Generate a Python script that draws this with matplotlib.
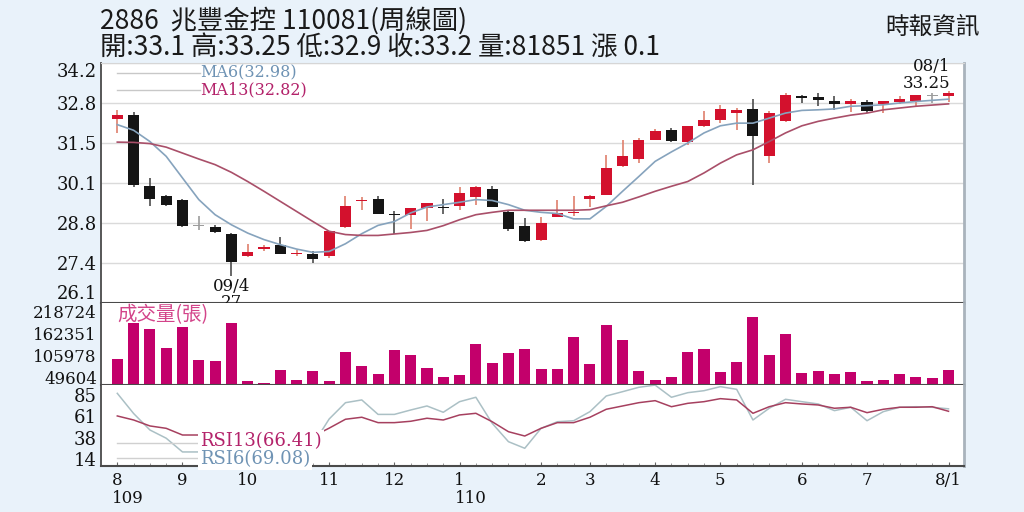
import matplotlib.pyplot as plt
import matplotlib.transforms as mtransforms
import numpy as np

# weekly bars, 109/08 -> 110/08/1
opens = [32.31, 32.45, 30.06, 29.72, 29.56, 28.70, 28.66, 28.43, 27.67, 27.92,
         28.07, 27.75, 27.76, 27.67, 28.65, 29.53, 29.60, 29.09, 29.08, 29.30,
         29.33, 29.38, 29.68, 29.95, 29.16, 28.70, 28.21, 29.00, 29.15, 29.61,
         29.76, 30.71, 30.97, 31.61, 31.95, 31.52, 32.06, 32.26, 32.51, 32.65,
         31.07, 32.23, 33.10, 33.06, 32.91, 32.82, 32.87, 32.80, 32.87, 32.91,
         33.10, 33.10]
closes = [32.45, 30.07, 29.62, 29.42, 28.69, 28.70, 28.48, 27.47, 27.81, 28.00,
          27.76, 27.79, 27.60, 28.52, 29.36, 29.57, 29.10, 29.08, 29.30, 29.46,
          29.31, 29.81, 30.02, 29.34, 28.60, 28.18, 28.80, 29.14, 29.17, 29.72,
          30.66, 31.05, 31.59, 31.89, 31.58, 32.06, 32.26, 32.65, 32.60, 31.72,
          32.51, 33.11, 33.02, 32.94, 32.80, 32.91, 32.57, 32.91, 33.00, 33.11,
          33.10, 33.20]
highs = [32.60, 32.53, 30.32, 29.74, 29.60, 29.02, 28.74, 28.46, 28.10, 28.05,
         28.33, 27.90, 27.85, 28.53, 29.72, 29.68, 29.72, 29.22, 29.30, 29.47,
         29.60, 30.02, 30.05, 30.04, 29.22, 28.97, 29.00, 29.57, 29.72, 29.73,
         31.10, 31.61, 31.67, 31.97, 32.00, 32.07, 32.57, 32.79, 32.68, 32.98,
         32.57, 33.19, 33.13, 33.19, 33.07, 32.98, 32.94, 32.92, 33.07, 33.12,
         33.19, 33.25]
lows = [31.84, 30.02, 29.36, 29.39, 28.65, 28.57, 28.46, 27.00, 27.65, 27.85,
        27.74, 27.67, 27.45, 27.62, 28.62, 29.24, 29.10, 28.43, 28.60, 28.86,
        29.09, 29.25, 29.42, 29.34, 28.53, 28.15, 28.20, 29.00, 29.04, 29.33,
        29.74, 30.70, 30.83, 31.60, 31.52, 31.44, 32.04, 32.17, 31.95, 30.09,
        30.83, 32.22, 32.85, 32.76, 32.62, 32.53, 32.51, 32.51, 32.82, 32.76,
        32.85, 32.90]
volumes = [109330, 203300, 186370, 139120, 191500, 107530, 104960, 203300, 53600, 49240,
           81080, 56170, 78510, 52830, 127300, 91350, 70810, 133210, 119600, 86990,
           63870, 68240, 147850, 99830, 126280, 136550, 84420, 84420, 167360, 98030,
           196640, 159660, 78510, 56940, 63870, 128840, 135010, 76710, 101620, 218724,
           119600, 173530, 74920, 78510, 70810, 77480, 54370, 56170, 72350, 64640,
           62080, 81851]
ma6 = [32.12, 31.93, 31.55, 31.05, 30.32, 29.59, 29.08, 28.74, 28.46, 28.24,
       28.07, 27.92, 27.81, 27.84, 28.10, 28.44, 28.72, 28.85, 29.14, 29.34,
       29.42, 29.50, 29.59, 29.56, 29.42, 29.23, 29.16, 29.12, 28.94, 28.94,
       29.36, 29.87, 30.37, 30.88, 31.20, 31.50, 31.84, 32.08, 32.17, 32.17,
       32.34, 32.51, 32.60, 32.62, 32.65, 32.74, 32.76, 32.79, 32.85, 32.90,
       32.94, 32.98]
ma13 = [31.53, 31.52, 31.48, 31.36, 31.16, 30.96, 30.77, 30.51, 30.20, 29.87,
        29.53, 29.19, 28.85, 28.52, 28.41, 28.38, 28.38, 28.43, 28.48, 28.55,
        28.71, 28.91, 29.08, 29.16, 29.23, 29.23, 29.23, 29.23, 29.23, 29.25,
        29.38, 29.50, 29.68, 29.87, 30.04, 30.20, 30.49, 30.82, 31.10, 31.27,
        31.55, 31.84, 32.08, 32.23, 32.34, 32.44, 32.51, 32.62, 32.68, 32.74,
        32.78, 32.82]
rsi6 = [86.0, 64.0, 46.0, 37.0, 22.0, 22.0, 20.0, 14.0, 18.0, 22.0,
        21.0, 24.0, 30.0, 58.0, 75.8, 78.8, 63.0, 63.0, 67.8, 72.2,
        65.3, 76.9, 81.7, 53.3, 33.2, 26.0, 47.8, 55.0, 56.1, 66.0,
        83.1, 87.8, 92.6, 95.0, 81.7, 86.7, 88.9, 93.3, 90.4, 56.9,
        69.7, 79.5, 76.9, 74.4, 67.1, 70.8, 56.1, 66.0, 70.8, 71.4,
        70.8, 69.08]
rsi13 = [61.3, 56.9, 50.4, 47.8, 40.5, 40.5, 38.0, 34.0, 35.0, 36.0,
         36.0, 37.0, 39.0, 48.0, 57.7, 59.9, 54.0, 54.0, 55.5, 58.8,
         56.9, 62.4, 64.2, 55.0, 44.1, 39.4, 47.8, 54.0, 54.0, 59.9,
         68.6, 72.2, 75.8, 78.0, 71.4, 75.1, 76.9, 80.2, 78.8, 64.2,
         71.4, 75.8, 74.4, 73.3, 69.7, 70.8, 64.9, 68.6, 70.8, 70.8,
         71.4, 66.41]

month_pos = [0, 4, 8, 13, 17, 21, 26, 29, 33, 37, 42, 46, 51]
month_labels = ['8', '9', '10', '11', '12', '1', '2', '3', '4', '5', '6', '7', '8/1']
price_ticks = [26.1, 27.45, 28.8, 30.15, 31.5, 32.85, 34.2]
price_labels = ['26.1', '27.4', '28.8', '30.1', '31.5', '32.8', '34.2']
vol_ticks = [49604, 105978, 162351, 218724]
rsi_ticks = [14, 37.5, 61, 84.5]
rsi_labels = ['14', '38', '61', '85']

SERIF = 'DejaVu Serif'
CJK = ['Noto Sans CJK TC', 'DejaVu Sans']
RED = '#d3112d'
BLUE_TXT = '#6f93b4'
RED_TXT = '#b3226a'
DARK = '#4a4a4a'

fig = plt.figure(figsize=(10.24, 5.12), dpi=100, facecolor='#e9f2fa')
L, W = 101 / 1024, 863 / 1024
ax1 = fig.add_axes([L, 1 - 303 / 512, W, 240 / 512])
ax2 = fig.add_axes([L, 1 - 385 / 512, W, 82 / 512], sharex=ax1)
ax3 = fig.add_axes([L, 1 - 466 / 512, W, 81 / 512], sharex=ax1)

x = np.arange(len(opens))
o, c, h, l = (np.array(a) for a in (opens, closes, highs, lows))

# ---- price panel ----
up = c > o
down = c < o
body_col = np.where(up, RED, np.where(down, '#151515', '#9c9c9c'))
wick_col = np.where(up, '#df7f6c', np.where(down, '#4d4d4d', '#9c9c9c'))
ax1.vlines(x, l, h, colors=wick_col, lw=1.2, zorder=2)
body_h = np.maximum(np.abs(c - o), 0.035)
body_b = (o + c) / 2 - body_h / 2
ax1.bar(x, body_h, bottom=body_b, width=0.68, color=body_col, zorder=3)
ax1.plot(x, ma6, color='#86a3bd', lw=1.2, zorder=4)
ax1.plot(x, ma13, color='#a94f69', lw=1.2, zorder=4)

ax1.set_ylim(price_ticks[0], price_ticks[-1])
ax1.set_yticks(price_ticks, price_labels)
ax1.grid(axis='y', color='#dadada', lw=1)
ax1.set_axisbelow(True)

# legend of moving averages
ax1.plot([0.0185, 0.1147], [0.958, 0.958], transform=ax1.transAxes, color='#c8c8c8', lw=1)
ax1.plot([0.0185, 0.1147], [0.886, 0.886], transform=ax1.transAxes, color='#c8c8c8', lw=1)
ax1.text(0.1147, 0.958, f'MA6({ma6[-1]:.2f})', transform=ax1.transAxes, color=BLUE_TXT,
         fontsize=11.5, family=SERIF, va='center')
ax1.text(0.1147, 0.886, f'MA13({ma13[-1]:.2f})', transform=ax1.transAxes, color=RED_TXT,
         fontsize=11.5, family=SERIF, va='center')

# low / high notes
lo = int(np.argmin(l))
note = dict(textcoords='offset points', ha='center', va='center', fontsize=12,
            family=SERIF, color='#111', annotation_clip=False)
ax1.annotate('09/4', xy=(lo, l[lo]), xytext=(0, -7), **note)
ax1.annotate(f'{l[lo]:g}', xy=(lo, l[lo]), xytext=(0, -19), **note)
hi = int(np.argmax(h))
note['ha'] = 'right'
ax1.annotate(f'{h[hi]:.2f}', xy=(hi, h[hi]), xytext=(1, 5.5), **note)
ax1.annotate('08/1', xy=(hi, h[hi]), xytext=(1, 18), **note)

# ---- volume panel ----
ax2.bar(x, volumes, width=0.68, color='#c3006b', zorder=2)
ax2.set_ylim(43330, 253900)
ax2.set_yticks(vol_ticks, [str(v) for v in vol_ticks])
ax2.text(0.0185, 0.86, '成交量(張)', transform=ax2.transAxes, color='#d3448a',
         fontsize=14, family=CJK, va='center', zorder=5)

# ---- RSI panel ----
ax3.plot(x, rsi6, color='#abc0c5', lw=1.1, zorder=2)
ax3.plot(x, rsi13, color='#a6405f', lw=1.1, zorder=2)
ax3.set_ylim(6.66, 95.1)
ax3.set_yticks(rsi_ticks, rsi_labels)
ax3.plot([0.0185, 0.1147], [0.284, 0.284], transform=ax3.transAxes, color='#d0d0d0', lw=1)
ax3.plot([0.0185, 0.1147], [0.099, 0.099], transform=ax3.transAxes, color='#d0d0d0', lw=1)
box = dict(facecolor='white', edgecolor='none', pad=1.5)
ax3.text(0.1147, 0.31, f'RSI13({rsi13[-1]:.2f})', transform=ax3.transAxes, color=RED_TXT,
         fontsize=13, family=SERIF, va='center', bbox=box, zorder=5)
ax3.text(0.1147, 0.088, f'RSI6({rsi6[-1]:.2f})', transform=ax3.transAxes, color=BLUE_TXT,
         fontsize=13, family=SERIF, va='center', bbox=box, zorder=5)

ax3.set_xlim(-1.0, 51.95)
ax3.set_xticks(month_pos, month_labels)
ax3.set_xticks(x, minor=True)
for yr, pos in (('109', 0), ('110', 21)):
    ax3.annotate(yr, xy=(pos, 0), xycoords=('data', 'axes fraction'), xytext=(-3.5, -23.5),
                 textcoords='offset points', ha='left', va='center', fontsize=12,
                 family=SERIF, color='#111', annotation_clip=False)

# ---- common styling ----
for ax in (ax1, ax2, ax3):
    ax.set_facecolor('white')
    ax.spines['left'].set_color(DARK)
    ax.spines['left'].set_linewidth(1.3)
    ax.spines['right'].set_color('#a9b3bc')
    ax.spines['right'].set_linewidth(2)
    ax.spines['bottom'].set_color(DARK)
    ax.spines['bottom'].set_linewidth(1.5)
    ax.spines['top'].set_visible(False)
    ax.tick_params(axis='y', length=0, pad=3, labelsize=13, labelcolor='#111')
    for t in ax.get_yticklabels():
        t.set_family(SERIF)
ax1.spines['top'].set_visible(True)
ax1.spines['top'].set_color('#d6d6d6')
ax1.tick_params(axis='x', which='both', length=0, labelbottom=False)
ax2.tick_params(axis='x', which='both', length=0, labelbottom=False)
ax2.tick_params(axis='y', labelsize=12)
ax3.tick_params(axis='x', which='major', length=3, direction='in', color='#666',
                pad=4, labelsize=12, labelcolor='#111')
ax3.tick_params(axis='x', which='minor', length=2, direction='in', color='#888')
for t in ax3.get_xticklabels():
    t.set_family(SERIF)

ylab = ax1.get_yticklabels()
ylab[0].set_va('bottom')
ylab[-1].set_va('top')
# volume labels sit a little above their ticks, as on the source chart
lift = mtransforms.ScaledTranslation(0, 5 / 100, fig.dpi_scale_trans)
for t in ax2.get_yticklabels():
    t.set_transform(t.get_transform() + lift)

# ---- header ----
chg = round(closes[-1] - closes[-2], 1)
fig.text(100 / 1024, 1 - 21 / 512, '2886  兆豐金控 110081(周線圖)', fontsize=19,
         family=CJK, va='center', color='#1a1a1a')
fig.text(100 / 1024, 1 - 48 / 512,
         f'開:{opens[-1]:g} 高:{highs[-1]:g} 低:{lows[-1]:g} 收:{closes[-1]:g} '
         f'量:{volumes[-1]} 漲 {chg:g}',
         fontsize=19, family=CJK, va='center', color='#1a1a1a')
fig.text(980 / 1024, 1 - 27 / 512, '時報資訊', fontsize=17, family=CJK, ha='right',
         va='center', color='#1a1a1a')

fig.savefig('out.png', dpi=100, facecolor=fig.get_facecolor())
